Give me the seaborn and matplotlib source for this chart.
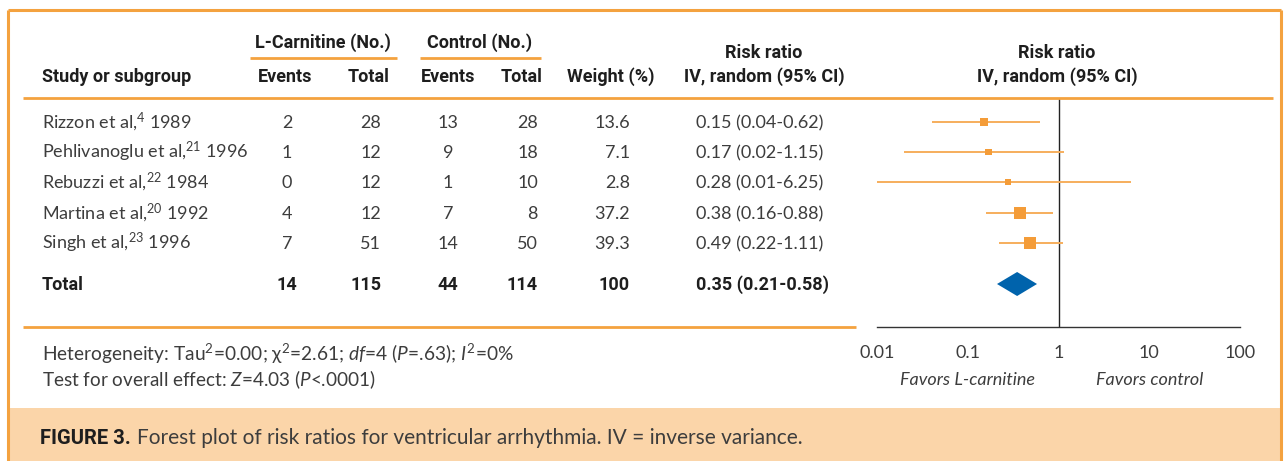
import matplotlib
matplotlib.use("Agg")
import matplotlib.pyplot as plt
from matplotlib import font_manager as fm
from matplotlib.lines import Line2D
from matplotlib.patches import Rectangle
import seaborn as sns
import pandas as pd

# ---- data -------------------------------------------------------------
studies = ["Rizzon et al,$^{4}$ 1989", "Pehlivanoglu et al,$^{21}$ 1996",
           "Rebuzzi et al,$^{22}$ 1984", "Martina et al,$^{20}$ 1992",
           "Singh et al,$^{23}$ 1996"]
carn_events = [2, 1, 0, 4, 7]
carn_total = [28, 12, 12, 12, 51]
ctrl_events = [13, 9, 1, 7, 14]
ctrl_total = [28, 18, 10, 8, 50]
weight = [13.6, 7.1, 2.8, 37.2, 39.3]
rr = [0.15, 0.17, 0.28, 0.38, 0.49]
ci_low = [0.04, 0.02, 0.01, 0.16, 0.22]
ci_high = [0.62, 1.15, 6.25, 0.88, 1.11]

total_carn_events, total_carn_n = 14, 115
total_ctrl_events, total_ctrl_n = 44, 114
total_weight = 100
pooled_rr, pooled_low, pooled_high = 0.35, 0.21, 0.58

axis_ticks = [0.01, 0.1, 1, 10, 100]
axis_tick_labels = ["0.01", "0.1", "1", "10", "100"]

# ---- style ------------------------------------------------------------
sns.set_theme(style="white")
avail = {f.name for f in fm.fontManager.ttflist}
HEAD = "Liberation Sans Narrow" if "Liberation Sans Narrow" in avail else "Roboto"
BODY = "Lato" if "Lato" in avail else "DejaVu Sans"
plt.rcParams["font.family"] = [BODY, "DejaVu Sans"]
plt.rcParams["mathtext.fontset"] = "custom"
plt.rcParams["mathtext.rm"] = f"{BODY}:weight=normal"
plt.rcParams["mathtext.it"] = f"{BODY}:style=italic:weight=normal"
plt.rcParams["mathtext.default"] = "regular"

ORANGE = "#F4A23F"
CI_COL = "#F6AE5C"
SQ_COL = "#F49C38"
BAND = "#FBD5A9"
BLUE = "#0063AC"
TXT = "#3d3d3d"
HTXT = "#1e1e1e"

W, H = 1288, 461
fig = plt.figure(figsize=(W / 100, H / 100), dpi=100)
fig.patch.set_facecolor("white")


def fx(x):
    return x / W


def fy(y):
    return 1 - y / H


def put(x, y, s, ha="left", head=False, size=13, **kw):
    fam = [HEAD, "DejaVu Sans"] if head else [BODY, "DejaVu Sans"]
    weight_ = "bold" if head else "normal"
    col = HTXT if head else TXT
    return fig.text(fx(x), fy(y), s, ha=ha, va="baseline", family=fam,
                    weight=weight_, color=col, fontsize=size, **kw)


def hline(x0, x1, y, lw=2.0, color=ORANGE):
    fig.add_artist(Line2D([fx(x0), fx(x1)], [fy(y), fy(y)], color=color,
                          lw=lw, solid_capstyle="butt"))


def vline(x, y0, y1, lw=2.2, color=ORANGE):
    fig.add_artist(Line2D([fx(x), fx(x)], [fy(y0), fy(y1)], color=color,
                          lw=lw, solid_capstyle="butt"))


# caption band and frame
fig.add_artist(Rectangle((fx(8), 0), fx(1281) - fx(8), fy(408), color=BAND, lw=0))
vline(8, 10, 461)
vline(1281, 10, 461)
hline(8, 1281, 10, lw=2.2)

# ---- header -------------------------------------------------------------
HS = 13
put(323, 48, "L-Carnitine (No.)", ha="center", head=True, size=HS)
put(480, 48, "Control (No.)", ha="center", head=True, size=HS)
hline(250, 397, 58)
hline(420, 541, 58)
put(42, 82, "Study or subgroup", head=True, size=HS)
put(285, 82, "Events", ha="center", head=True, size=HS)
put(369, 82, "Total", ha="center", head=True, size=HS)
put(448, 82, "Events", ha="center", head=True, size=HS)
put(522, 82, "Total", ha="center", head=True, size=HS)
put(611, 82, "Weight (%)", ha="center", head=True, size=HS)
put(764, 58, "Risk ratio", ha="center", head=True, size=HS)
put(764, 82, "IV, random (95% CI)", ha="center", head=True, size=HS)
put(1057, 58, "Risk ratio", ha="center", head=True, size=HS)
put(1057, 82, "IV, random (95% CI)", ha="center", head=True, size=HS)
hline(23, 1273, 98)

# ---- study rows ---------------------------------------------------------
ROW_Y = [122, 152, 182, 213, 243]
TOTAL_Y = 284
for i, yc in enumerate(ROW_Y):
    b = yc + 6
    put(42, b, studies[i])
    put(287, b, str(carn_events[i]), ha="center")
    put(381, b, str(carn_total[i]), ha="right")
    put(448, b, str(ctrl_events[i]), ha="center")
    put(538, b, str(ctrl_total[i]), ha="right")
    put(630, b, f"{weight[i]:.1f}", ha="right")
    put(696, b, f"{rr[i]:.2f} ({ci_low[i]:.2f}-{ci_high[i]:.2f})")

b = TOTAL_Y + 6
put(42, b, "Total", head=True)
put(287, b, str(total_carn_events), ha="center", head=True)
put(381, b, str(total_carn_n), ha="right", head=True)
put(448, b, str(total_ctrl_events), ha="center", head=True)
put(538, b, str(total_ctrl_n), ha="right", head=True)
put(630, b, str(total_weight), ha="right", head=True)
put(696, b, f"{pooled_rr:.2f} ({pooled_low:.2f}-{pooled_high:.2f})", head=True)

hline(23, 856, 327)

put(42, 361, "Heterogeneity: Tau$^{2}$=0.00; \u03c7$^{2}$=2.61; $\\it{df}$=4 "
             "($\\it{P}$=.63); $\\it{I}^{2}$=0%", size=13.8)
put(42, 386, "Test for overall effect: $\\it{Z}$=4.03 ($\\it{P}$<.0001)", size=13.6)

# ---- forest panel -------------------------------------------------------
AX_TOP, AX_BOT = 98, 327
ax = fig.add_axes([fx(877), fy(AX_BOT), fx(1240) - fx(877), (AX_BOT - AX_TOP) / H])
ax.patch.set_alpha(0)
ax.set_xscale("log")
ax.set_xlim(axis_ticks[0], axis_ticks[-1])
ax.set_ylim(AX_BOT, AX_TOP)

ax.axvline(1, color="#222222", lw=1.0, zorder=1)
ax.hlines(ROW_Y, ci_low, ci_high, color=CI_COL, lw=1.4, zorder=2)
df = pd.DataFrame({"rr": rr, "y": ROW_Y, "weight": weight})
sns.scatterplot(data=df, x="rr", y="y", size="weight", sizes=(18, 75),
                marker="s", color=SQ_COL, edgecolor="none", linewidth=0,
                legend=False, ax=ax, zorder=3)
ax.fill([pooled_low, pooled_rr, pooled_high, pooled_rr],
        [TOTAL_Y, TOTAL_Y - 12, TOTAL_Y, TOTAL_Y + 12],
        color=BLUE, lw=0, zorder=3)

for side in ("top", "right", "left"):
    ax.spines[side].set_visible(False)
ax.spines["bottom"].set_color("#333333")
ax.spines["bottom"].set_linewidth(1.0)
ax.set_xticks(axis_ticks)
ax.set_xticklabels(axis_tick_labels)
ax.minorticks_off()
ax.set_yticks([])
ax.set_xlabel("")
ax.set_ylabel("")
ax.tick_params(axis="x", direction="out", length=5, width=1.0, color="#333333",
               pad=8, labelsize=13, labelcolor="#3d3d3d")
for lbl in ax.get_xticklabels():
    lbl.set_family([BODY, "DejaVu Sans"])
    lbl.set_weight("normal")

fav_y = (AX_BOT - 385) / (AX_BOT - AX_TOP)
for xv, s in ((0.1, "Favors L-carnitine"), (10, "Favors control")):
    ax.text(xv, fav_y, s, transform=ax.get_xaxis_transform(),
            ha="center", va="baseline", style="italic", weight="normal",
            family=[BODY, "DejaVu Sans"], color="#3d3d3d", fontsize=13)

# ---- caption ------------------------------------------------------------
cap = put(40, 444, "FIGURE 3.", head=True, size=14.5)
fig.canvas.draw()
ext = cap.get_window_extent(renderer=fig.canvas.get_renderer())
put(ext.x1 + 6, 444, "Forest plot of risk ratios for ventricular arrhythmia. "
    "IV = inverse variance.", size=15)

fig.savefig("out.png", dpi=100)
